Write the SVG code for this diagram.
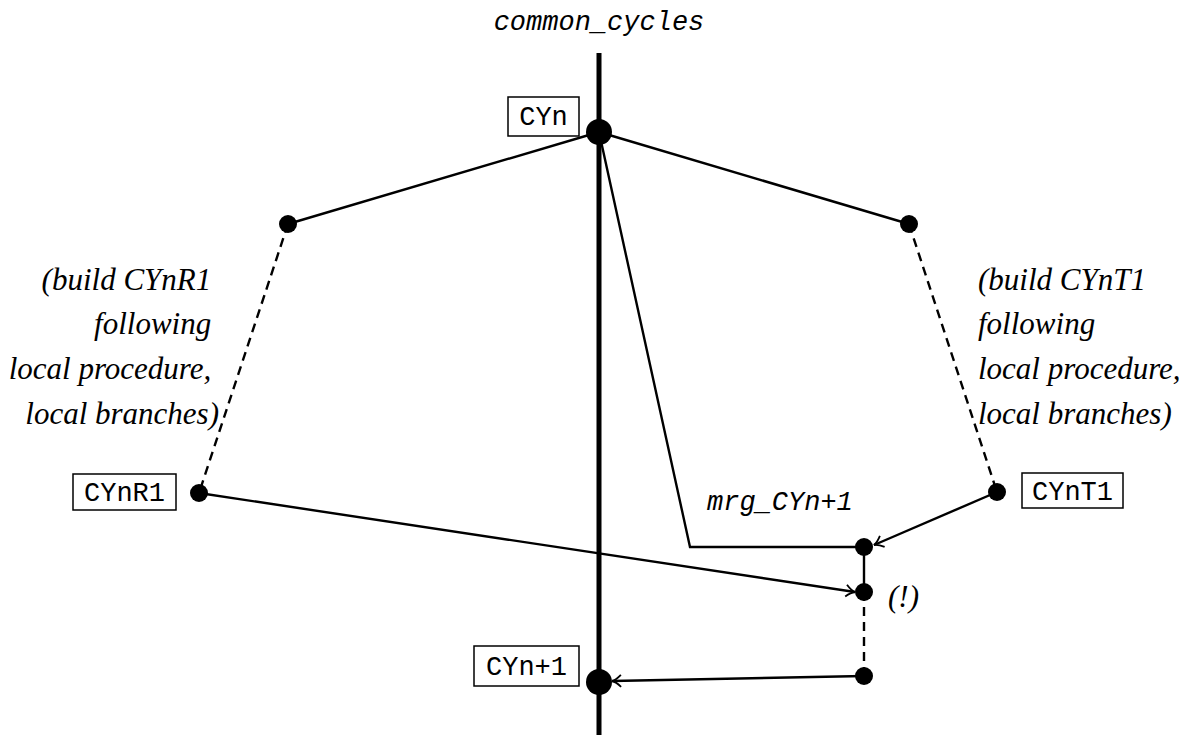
<svg xmlns="http://www.w3.org/2000/svg" width="1196" height="735" viewBox="0 0 1196 735">
<style>
.tt{font-family:"Liberation Mono",monospace;font-size:27px;fill:#000}
.tti{font-family:"Liberation Mono",monospace;font-size:27px;font-style:italic;fill:#000}
.it{font-family:"Liberation Serif",serif;font-size:31px;font-style:italic;fill:#000}
.box{fill:#fff;stroke:#000;stroke-width:1.5}
.ln{fill:none;stroke:#000;stroke-width:2.4}
.dash{fill:none;stroke:#000;stroke-width:2.4;stroke-dasharray:9 6}
.dot{fill:#000}
</style>
<defs>
<marker id="arr" viewBox="-12 -8 14 16" markerWidth="14" markerHeight="16" refX="0" refY="0" orient="auto" markerUnits="userSpaceOnUse">
<path d="M-9,-6 Q-4,-1 0,0 Q-4,1 -9,6" fill="none" stroke="#000" stroke-width="1.8"/>
</marker>
</defs>
<rect width="1196" height="735" fill="#fff"/>
<text class="tti" x="599" y="30" text-anchor="middle">common_cycles</text>
<g id="connectors">
<line x1="599" y1="53" x2="599" y2="735" stroke="#000" stroke-width="5"/>
<line class="ln" x1="599" y1="132" x2="288" y2="224"/>
<line class="ln" x1="599" y1="132" x2="909" y2="224"/>
<line class="dash" x1="288" y1="224" x2="199" y2="493"/>
<line class="dash" x1="909" y1="224" x2="997" y2="492"/>
<polyline class="ln" points="599,132 690,547 864,547"/>
<line class="ln" x1="997" y1="492" x2="874" y2="545" marker-end="url(#arr)"/>
<line class="ln" x1="199" y1="493" x2="855" y2="592" marker-end="url(#arr)"/>
<line class="ln" x1="864" y1="547" x2="864" y2="592"/>
<line class="dash" x1="864" y1="592" x2="864" y2="676"/>
<line class="ln" x1="864" y1="676" x2="612" y2="681" marker-end="url(#arr)"/>
</g>
<g id="CYn">
<rect class="box" x="508" y="97" width="71" height="39"/>
<text class="tt" x="543.5" y="125" text-anchor="middle">CYn</text>
<circle class="dot" cx="599" cy="132" r="13"/>
</g>
<g id="left-mid">
<circle class="dot" cx="288" cy="224" r="9"/>
</g>
<g id="right-mid">
<circle class="dot" cx="909" cy="224" r="9"/>
</g>
<g id="CYnR1">
<rect class="box" x="73" y="474" width="103" height="36"/>
<text class="tt" x="124.5" y="501" text-anchor="middle">CYnR1</text>
<circle class="dot" cx="199" cy="493" r="9"/>
</g>
<g id="CYnT1">
<rect class="box" x="1022" y="473" width="101" height="35"/>
<text class="tt" x="1072.5" y="500" text-anchor="middle">CYnT1</text>
<circle class="dot" cx="997" cy="492" r="9"/>
</g>
<g id="note-left">
<text class="it" text-anchor="end">
<tspan x="219" y="290">(build CYnR1</tspan>
<tspan x="219" y="334">following</tspan>
<tspan x="219" y="379">local procedure,</tspan>
<tspan x="219" y="424">local branches)</tspan>
</text>
</g>
<g id="note-right">
<text class="it">
<tspan x="978" y="290">(build CYnT1</tspan>
<tspan x="978" y="334">following</tspan>
<tspan x="978" y="379">local procedure,</tspan>
<tspan x="978" y="424">local branches)</tspan>
</text>
</g>
<g id="mrg">
<text class="tti" x="707" y="510">mrg_CYn+1</text>
<circle class="dot" cx="864" cy="547" r="9"/>
</g>
<g id="excl">
<circle class="dot" cx="864" cy="592" r="9"/>
<text class="it" x="888" y="607">(!)</text>
</g>
<g id="bottom">
<circle class="dot" cx="864" cy="676" r="9"/>
</g>
<g id="CYn1">
<rect class="box" x="474" y="646" width="105" height="40"/>
<text class="tt" x="526.5" y="675" text-anchor="middle">CYn+1</text>
<circle class="dot" cx="599" cy="682" r="13"/>
</g>
</svg>
